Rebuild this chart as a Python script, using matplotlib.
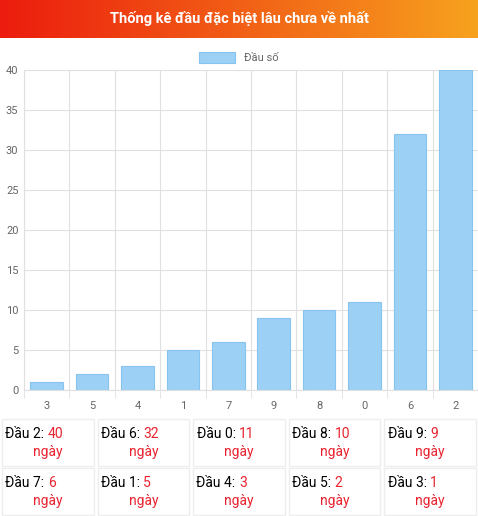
import numpy as np
import matplotlib.pyplot as plt
from matplotlib.patches import Rectangle
from matplotlib.colors import LinearSegmentedColormap

plt.rcParams['font.family'] = ['Roboto', 'DejaVu Sans']

categories = ['3', '5', '4', '1', '7', '9', '8', '0', '6', '2']
values = [1, 2, 3, 5, 6, 9, 10, 11, 32, 40]
table_rows = [
    [('Đầu 2', 40), ('Đầu 6', 32), ('Đầu 0', 11), ('Đầu 8', 10), ('Đầu 9', 9)],
    [('Đầu 7', 6), ('Đầu 1', 5), ('Đầu 4', 3), ('Đầu 5', 2), ('Đầu 3', 1)],
]

W, H = 478, 516
fig = plt.figure(figsize=(W / 100, H / 100), dpi=100)

# header with gradient
hdr = fig.add_axes([0, 1 - 38 / H, 1, 38 / H])
grad = np.linspace(0, 1, 256).reshape(1, -1)
cmap = LinearSegmentedColormap.from_list('hdr', ['#ec1c0e', '#f7a21e'])
hdr.imshow(grad, aspect='auto', cmap=cmap, extent=[0, 1, 0, 1])
hdr.text(0.5, 0.5, 'Thống kê đầu đặc biệt lâu chưa về nhất', color='white',
         fontsize=10.5, fontweight='bold', ha='center', va='center')
hdr.axis('off')

# bar chart
ax = fig.add_axes([24 / W, 1 - 390 / H, (W - 24) / W, 320 / H])
x = np.arange(len(categories))
ax.bar(x, values, width=0.72, color='#9dd0f5', edgecolor='#86c3ee', linewidth=0.8,
       label='Đầu số')
ax.set_xlim(-0.5, len(categories) - 0.5)
ax.set_ylim(0, 40)
ax.set_yticks(range(0, 41, 5))
ax.set_xticks(x)
ax.set_xticklabels(categories)
ax.set_xticks(np.arange(-0.5, len(categories), 1), minor=True)
ax.grid(True, which='minor', axis='x', color='#e0e0e0', linewidth=0.8)
ax.grid(True, which='major', axis='y', color='#e0e0e0', linewidth=0.8)
ax.tick_params(axis='both', which='major', labelsize=8, colors='#666666', length=0, pad=8)
ax.tick_params(axis='x', which='minor', length=6, color='#e0e0e0')
ax.tick_params(axis='y', pad=4)
for s in ax.spines.values():
    s.set_color('#e0e0e0')
ax.spines['top'].set_visible(False)
ax.spines['right'].set_visible(False)
ax.set_axisbelow(True)
fig.legend(loc='upper center', bbox_to_anchor=(0.5, 1 - 42 / H), frameon=False,
           fontsize=8, labelcolor='#666666', handlelength=3.2, handleheight=1.1)

# table
tb = fig.add_axes([0, 0, 1, 98 / H])
tb.set_xlim(0, 5)
tb.set_ylim(0, 2)
tb.axis('off')
for r, row in enumerate(table_rows):
    yc = 1.5 - r
    for c, (lbl, n) in enumerate(row):
        tb.add_patch(Rectangle((c + 0.02, yc - 0.48), 0.96, 0.96, fill=False,
                               edgecolor='#eeeeee', linewidth=1))
        tb.text(c + 0.5, yc + 0.17, f'{lbl}: ', ha='right', va='center',
                fontsize=10, color='black')
        tb.text(c + 0.5, yc + 0.17, str(n), ha='left', va='center',
                fontsize=10, color='#e8232f')
        tb.text(c + 0.5, yc - 0.2, 'ngày', ha='center', va='center',
                fontsize=10, color='#e8232f')

fig.savefig('out.png', dpi=100)
